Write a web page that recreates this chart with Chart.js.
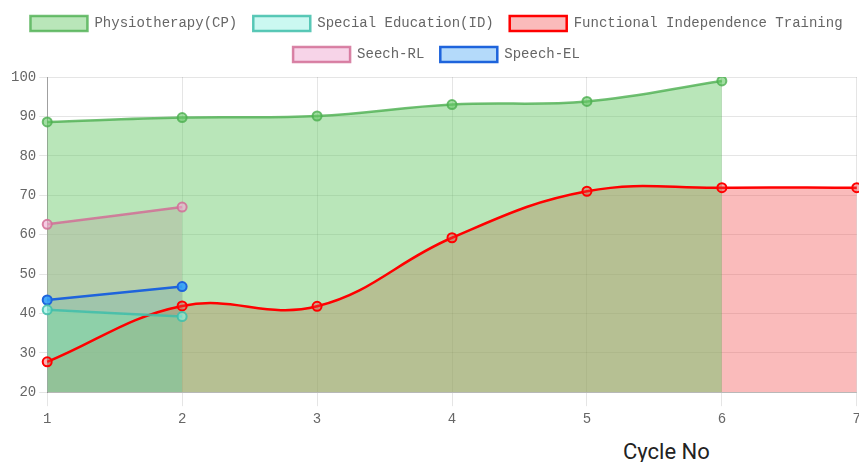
<!DOCTYPE html>
<html>
<head>
<meta charset="utf-8">
<script src="https://cdn.jsdelivr.net/npm/chart.js@4"></script>
<style>
html,body{margin:0;padding:0;background:#fff;overflow:hidden;}
#wrap{position:relative;width:859px;height:462px;overflow:hidden;}
#c{position:absolute;left:0;top:0;}
#xt{position:absolute;left:623px;top:439px;font-family:Roboto,'Noto Sans',sans-serif;font-size:22px;color:#222;line-height:26px;white-space:nowrap;}
</style>
</head>
<body>
<div id="wrap">
<canvas id="c" width="866" height="433"></canvas>
<div id="xt">Cycle No</div>
</div>
<script>
const categories = ['1','2','3','4','5','6','7'];
const physiotherapy = [88.6, 89.7, 90.1, 93.0, 93.8, 99.0];
const specialEducation = [40.9, 39.2];
const functionalIndependence = [27.7, 41.9, 41.8, 59.2, 71.0, 71.9, 71.9];
const speechRL = [62.6, 67.0];
const speechEL = [43.4, 46.8];
const yTicks = [20, 30, 40, 50, 60, 70, 80, 90, 100];

const mono = "'Liberation Mono', 'DejaVu Sans Mono', monospace";

function ds(label, data, border, bg, point) {
  return {
    label, data,
    borderColor: border,
    backgroundColor: bg,
    pointBackgroundColor: point,
    pointBorderColor: border,
    pointRadius: 4.5,
    pointBorderWidth: 2,
    borderWidth: 2.5,
    fill: 'origin',
    tension: 0.4
  };
}

const legendGap = { id: 'legendGap', beforeInit(chart) {
  const fit = chart.legend.fit;
  chart.legend.fit = function () { fit.bind(chart.legend)(); this.height += 5; };
}};

new Chart(document.getElementById('c'), {
  type: 'line',
  data: {
    labels: categories,
    datasets: [
      ds('Physiotherapy(CP)', physiotherapy, 'rgba(76,175,80,0.8)', 'rgba(100,200,100,0.45)', 'rgba(100,200,100,0.6)'),
      ds('Special Education(ID)', specialEducation, 'rgba(64,190,170,0.85)', 'rgba(140,240,225,0.45)', 'rgba(140,240,225,0.6)'),
      ds('Functional Independence Training', functionalIndependence, 'rgb(255,0,0)', 'rgba(240,60,60,0.35)', 'rgba(240,60,60,0.4)'),
      ds('Seech-RL', speechRL, 'rgba(210,110,150,0.85)', 'rgba(240,170,210,0.5)', 'rgba(240,170,210,0.6)'),
      ds('Speech-EL', speechEL, 'rgb(30,100,220)', 'rgba(40,150,240,0.35)', 'rgba(50,160,250,0.9)')
    ]
  },
  plugins: [legendGap],
  options: {
    responsive: false,
    animation: false,
    layout: { padding: { left: 8, right: 1, top: 0, bottom: 0 } },
    plugins: {
      filler: { drawTime: 'beforeDatasetsDraw' },
      legend: {
        labels: {
          font: { family: mono, size: 14 },
          color: '#666',
          boxWidth: 57,
          boxHeight: 15,
          padding: 16
        }
      },
      tooltip: { enabled: false }
    },
    scales: {
      x: {
        offset: false,
        border: { color: 'rgba(0,0,0,0.2)' },
        grid: { color: 'rgba(0,0,0,0.1)', tickLength: 14 },
        ticks: { font: { family: mono, size: 14 }, color: '#666', padding: 5 }
      },
      y: {
        min: 20, max: 100,
        afterBuildTicks: (s) => { s.ticks = yTicks.map(v => ({ value: v })); },
        border: { color: 'rgba(0,0,0,0.3)' },
        grid: { color: 'rgba(0,0,0,0.1)' },
        ticks: { font: { family: mono, size: 14 }, color: '#666' }
      }
    }
  }
});
</script>
</body>
</html>
